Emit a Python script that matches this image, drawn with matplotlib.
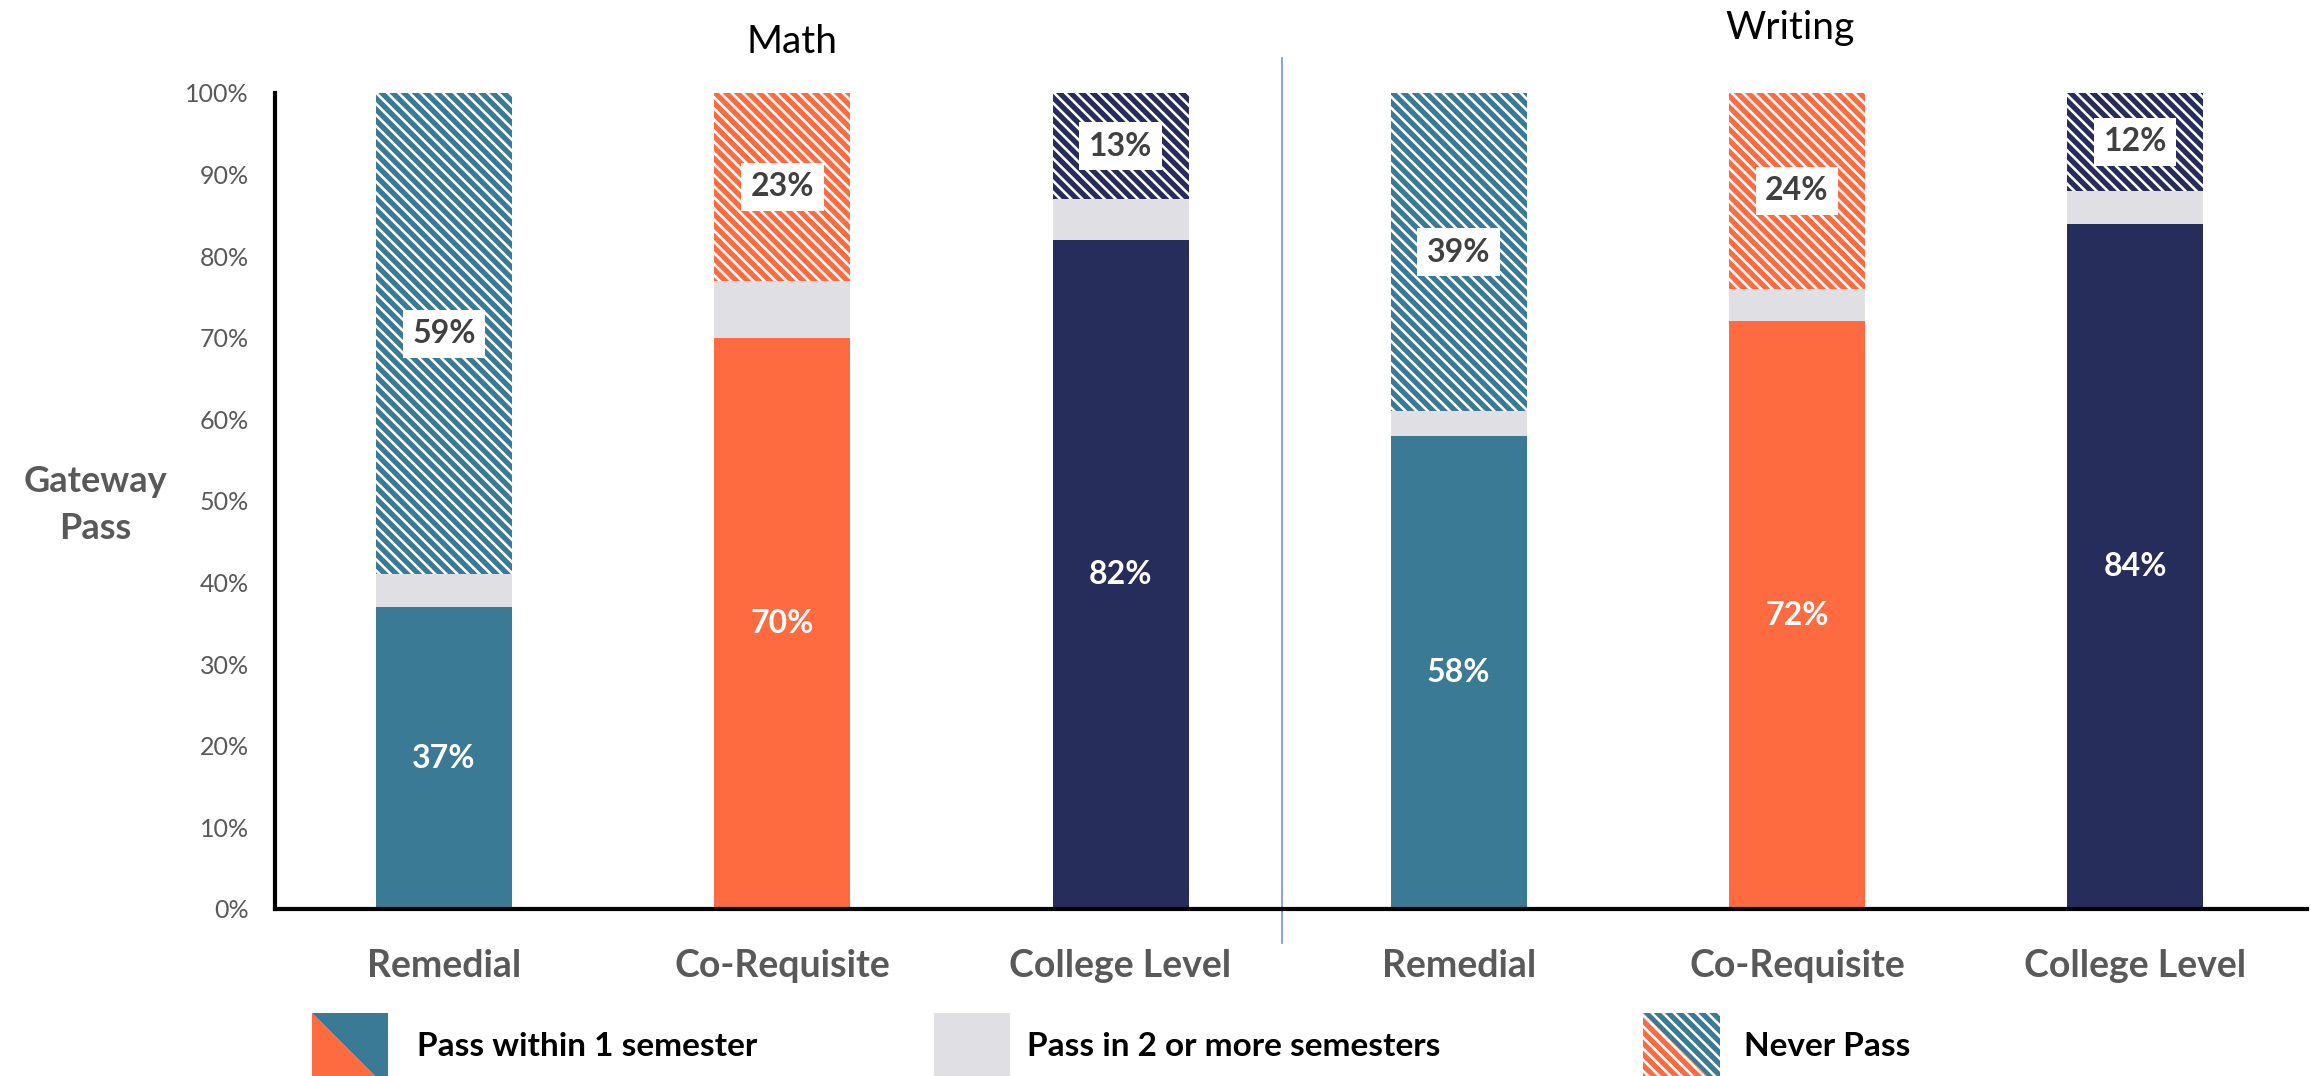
import matplotlib
matplotlib.use("Agg")
import matplotlib.pyplot as plt
from matplotlib.patches import Polygon
from matplotlib.lines import Line2D
import matplotlib.transforms as mtransforms
import numpy as np

plt.rcParams['font.family'] = ['Lato', 'DejaVu Sans']
plt.rcParams['hatch.linewidth'] = 3.8

# ---- data -------------------------------------------------------------
subjects = ["Math", "Writing"]
categories = ["Remedial", "Co-Requisite", "College Level",
              "Remedial", "Co-Requisite", "College Level"]
pass_one = [37, 70, 82, 58, 72, 84]       # pass within 1 semester
pass_two = [4, 7, 5, 3, 4, 4]             # pass in 2 or more semesters
never_pass = [59, 23, 13, 39, 24, 12]     # never pass
legend_labels = ["Pass within 1 semester", "Pass in 2 or more semesters", "Never Pass"]
y_ticks = list(range(0, 101, 10))

# ---- styling ----------------------------------------------------------
TEAL, ORANGE, NAVY = "#3A7A94", "#FF6B40", "#262D5A"
GRAY = "#E0E0E4"
bar_colors = [TEAL, ORANGE, NAVY, TEAL, ORANGE, NAVY]
TICK_GRAY = "#595959"
LABEL_DARK = "#404040"
HATCH = "\\\\\\"

W, H = 2311, 1076
fig = plt.figure(figsize=(W / 100, H / 100), dpi=100)


def fx(px):
    return px / W


def fy(py):
    return 1 - py / H


ax = fig.add_axes([fx(275), fy(909), fx(2307) - fx(275), fy(93) - fy(909)])

x = np.arange(len(categories))
p1 = np.array(pass_one)
p2 = np.array(pass_two)
nv = np.array(never_pass)
bw = 0.402

ax.bar(x, p1, width=bw, color=bar_colors, linewidth=0, zorder=2)
ax.bar(x, p2, width=bw, bottom=p1, color=GRAY, linewidth=0, zorder=2)
ax.bar(x, nv, width=bw, bottom=p1 + p2, facecolor="white",
       edgecolor=bar_colors, hatch=HATCH, linewidth=0, zorder=2)

# value labels
for xi, a, b, c in zip(x, p1, p2, nv):
    ax.text(xi, a / 2, f"{a}%", ha="center", va="center", color="white",
            fontsize=23, fontweight="bold", zorder=5)
    ax.text(xi, a + b + c / 2, f"{c}%", ha="center", va="center",
            color=LABEL_DARK, fontsize=23, fontweight="bold", zorder=5,
            bbox=dict(facecolor="white", edgecolor="none",
                      boxstyle="square,pad=0.3"))

ax.set_xlim(-0.5, 5.508)
ax.set_ylim(0, 100)
ax.set_yticks(y_ticks)
ax.set_yticklabels([f"{v}%" for v in y_ticks])
ax.tick_params(axis="y", length=0, pad=19, labelsize=18, labelcolor=TICK_GRAY)
ax.set_xticks([])
for side in ("top", "right"):
    ax.spines[side].set_visible(False)
for side in ("left", "bottom"):
    ax.spines[side].set_linewidth(3)
    ax.spines[side].set_color("black")

# category labels below the axis
tx = mtransforms.blended_transform_factory(ax.transData, ax.transAxes)
for xi, cat in zip(x, categories):
    ax.text(xi, (909 - 977) / 816, cat, transform=tx, ha="center",
            va="baseline", fontsize=27, fontweight="bold", color=TICK_GRAY)

# subject titles
ax.text(1.03, (909 - 53) / 816, subjects[0], transform=tx, ha="center",
        va="baseline", fontsize=28, color="black")
ax.text(3.98, (909 - 39) / 816, subjects[1], transform=tx, ha="center",
        va="baseline", fontsize=28, color="black")

# divider between subjects
ax.add_line(Line2D([2.477, 2.477], [(909 - 58) / 816, (909 - 943) / 816],
                   transform=tx, color="#6F93D8", linewidth=1.2,
                   clip_on=False, zorder=1))

# y-axis title
fig.text(fx(95), fy(492), "Gateway", ha="center", va="baseline",
         fontsize=26, fontweight="bold", color=TICK_GRAY)
fig.text(fx(95), fy(539), "Pass", ha="center", va="baseline",
         fontsize=26, fontweight="bold", color=TICK_GRAY)

# ---- legend -----------------------------------------------------------
top, bot = 1013, 1089


def tri(pts, **kw):
    fig.add_artist(Polygon([(fx(a), fy(b)) for a, b in pts], closed=True,
                           transform=fig.transFigure, **kw))


# split swatch: pass within 1 semester
l, r = 312, 388
tri([(l, top), (l, bot), (r, bot)], facecolor=ORANGE, edgecolor="none")
tri([(l, top), (r, top), (r, bot)], facecolor=TEAL, edgecolor="none")
fig.text(fx(417), fy(1046), legend_labels[0], ha="left", va="center",
         fontsize=24, fontweight="bold", color="black")

# gray swatch
l, r = 934, 1010
tri([(l, top), (r, top), (r, bot), (l, bot)], facecolor=GRAY, edgecolor="none")
fig.text(fx(1027), fy(1046), legend_labels[1], ha="left", va="center",
         fontsize=24, fontweight="bold", color="black")

# hatched split swatch: never pass
l, r = 1643, 1720
tri([(l, top), (l, bot), (r, bot)], facecolor="white", edgecolor=ORANGE,
    hatch=HATCH, linewidth=0)
tri([(l, top), (r, top), (r, bot)], facecolor="white", edgecolor=TEAL,
    hatch=HATCH, linewidth=0)
fig.text(fx(1744), fy(1046), legend_labels[2], ha="left", va="center",
         fontsize=24, fontweight="bold", color="black")

fig.savefig("out.png", dpi=100, facecolor="white")
